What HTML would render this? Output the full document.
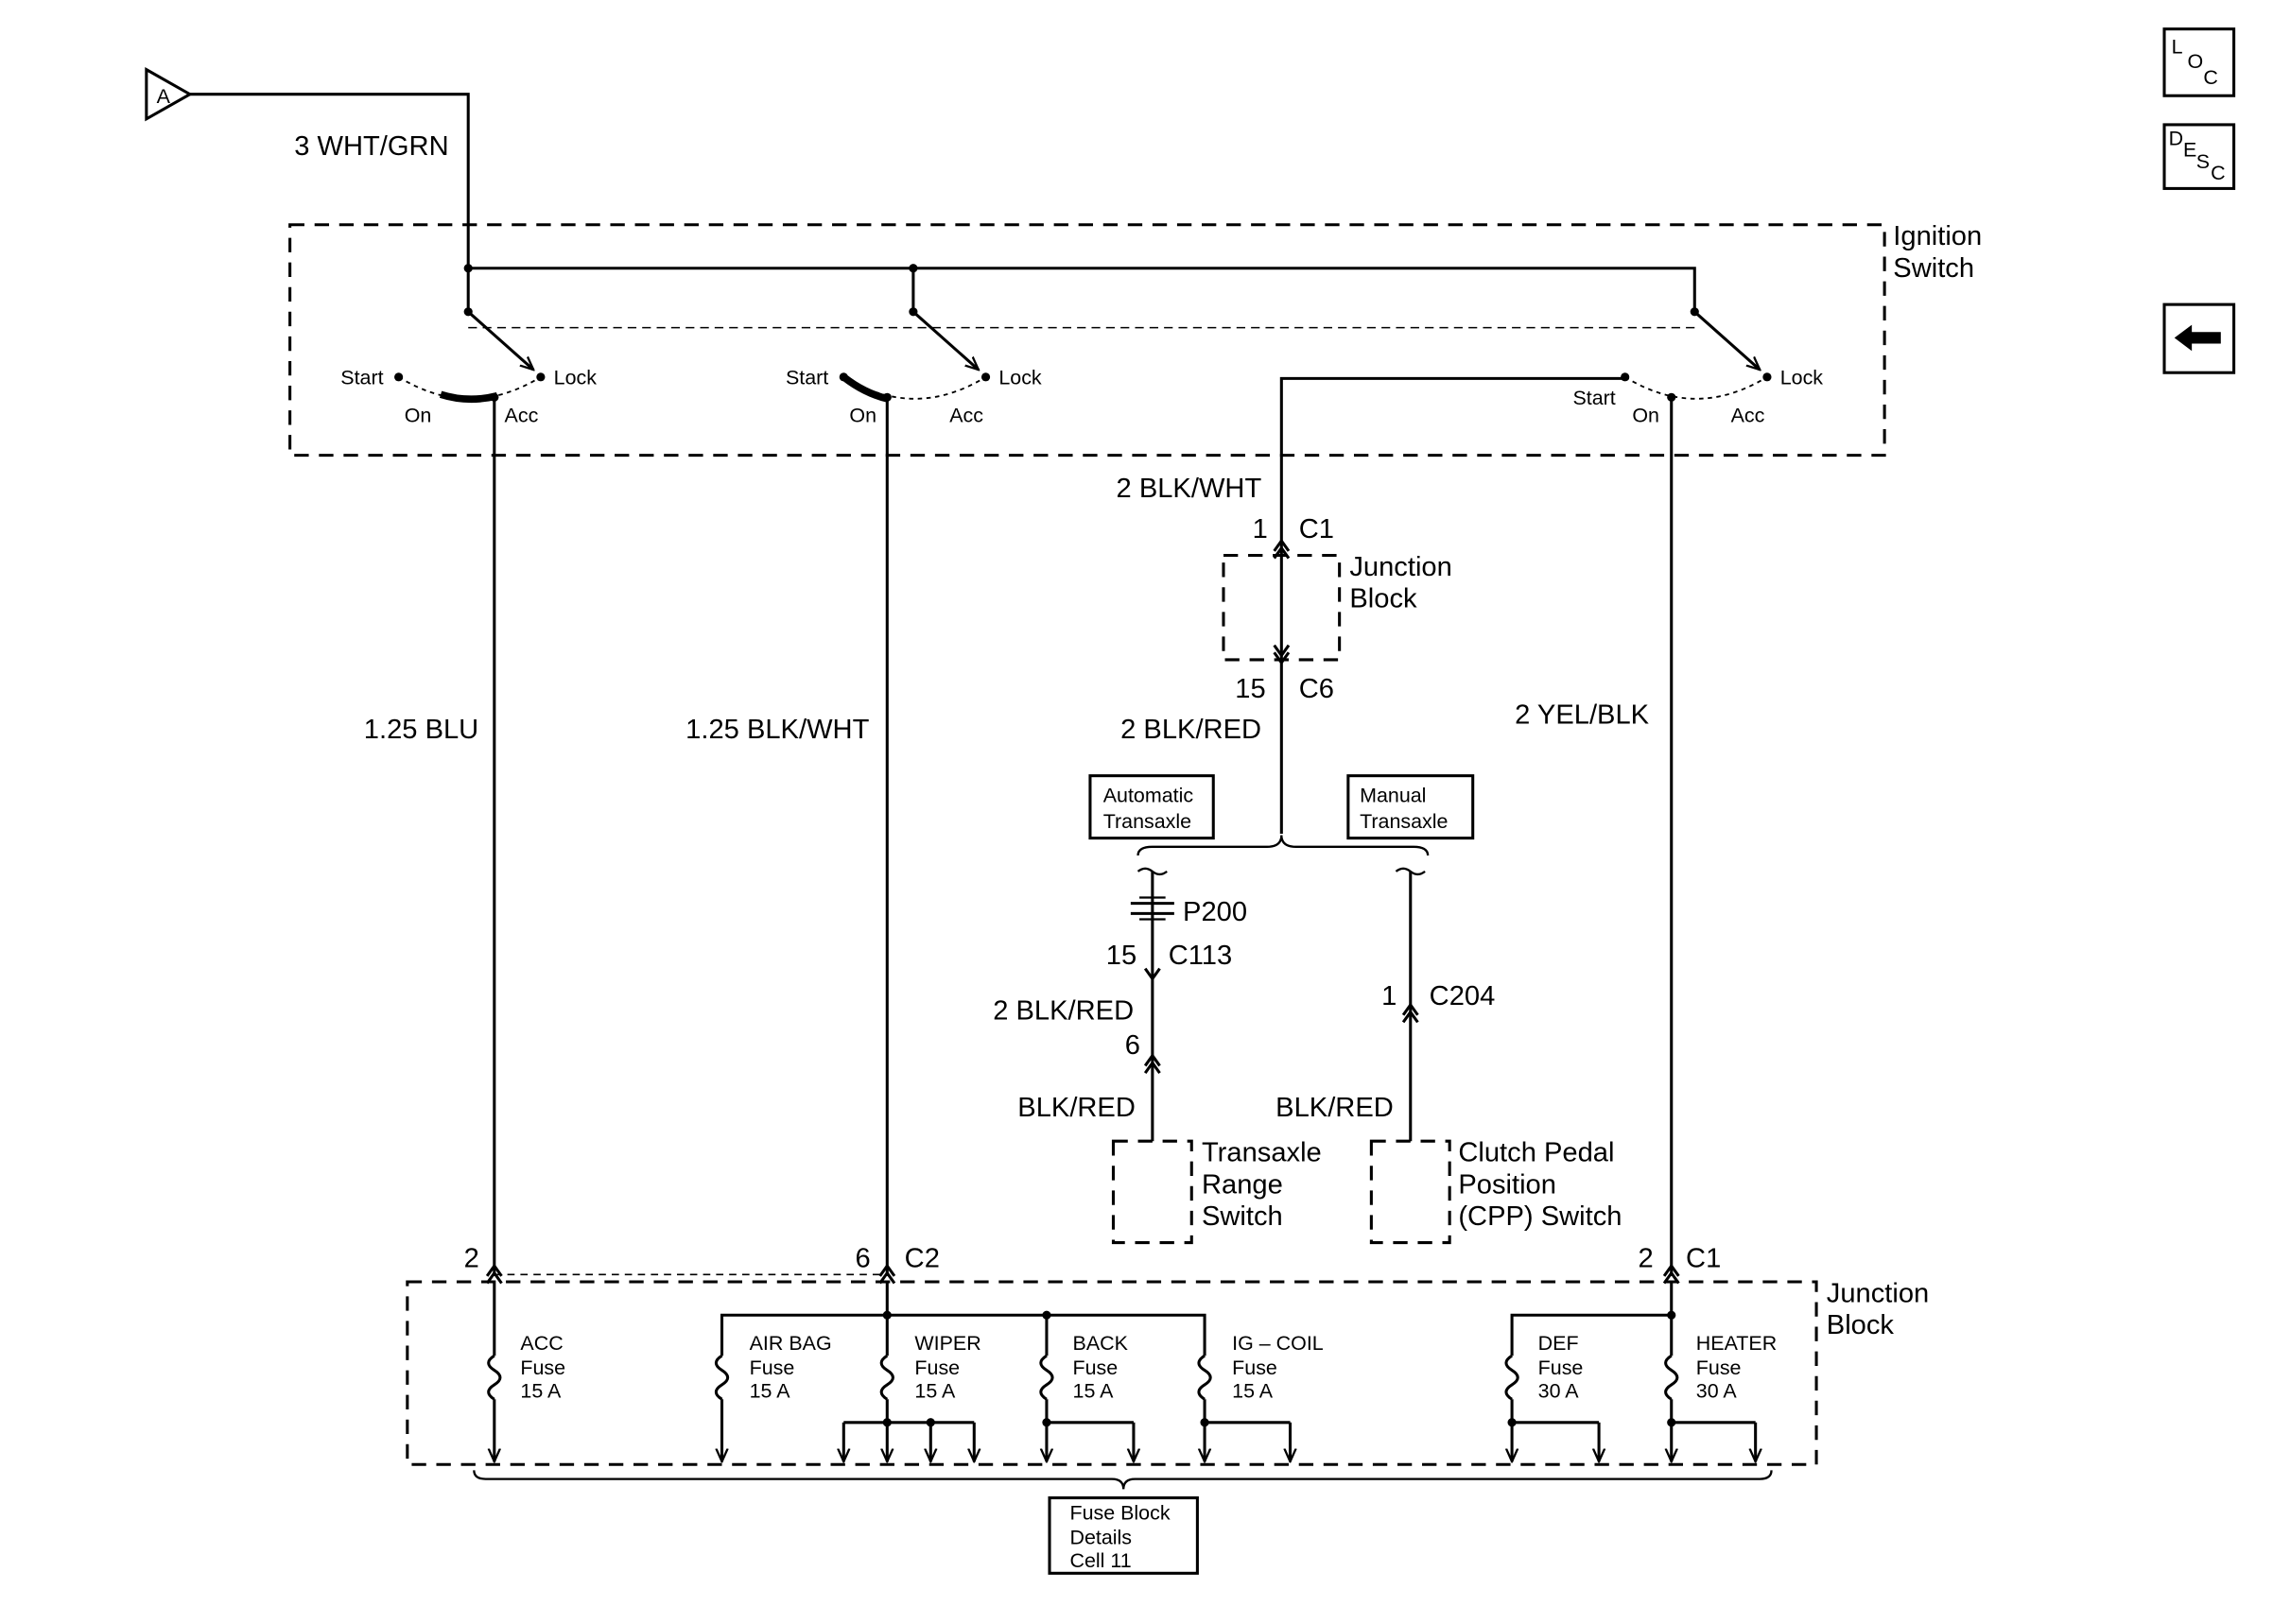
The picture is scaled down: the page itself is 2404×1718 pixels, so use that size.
<!DOCTYPE html>
<html><head><meta charset="utf-8"><style>
html,body{margin:0;padding:0;background:#fff;}
svg{display:block;}
text{font-family:"Liberation Sans",sans-serif;fill:#000;}
.l{font-size:19px;}
.s{font-size:14px;}
</style></head><body>
<svg width="2404" height="1718" viewBox="0 0 1568 1120" preserveAspectRatio="none" xmlns="http://www.w3.org/2000/svg">
<defs>
<marker id="ar" markerWidth="10" markerHeight="10" refX="9" refY="5" orient="auto" markerUnits="userSpaceOnUse"><path d="M0,1 L9,5 L0,9" fill="none" stroke="#000" stroke-width="1.5"/></marker>
</defs>
<g stroke="#000" stroke-width="2" fill="none">
<path d="M101,48 L131,65 L101,82 Z"/>
<path d="M131,65 H323 V215"/>
<rect x="200" y="155" width="1100" height="159" stroke-dasharray="10,7"/>
<path d="M323,185 H1169 V215"/>
<path d="M630,185 V215"/>
<path d="M323,226 H1169" stroke-width="1" stroke-dasharray="6,4"/>
<path d="M323,215 L368,255" marker-end="url(#ar)"/>
<path d="M630,215 L675,255" marker-end="url(#ar)"/>
<path d="M1169,215 L1214,255" marker-end="url(#ar)"/>
<path d="M275,260 Q324,290 373,260" stroke-width="1.2" stroke-dasharray="3,3"/>
<path d="M582,260 Q631,290 680,260" stroke-width="1.2" stroke-dasharray="3,3"/>
<path d="M1121,260 Q1170,290 1219,260" stroke-width="1.2" stroke-dasharray="3,3"/>
<path d="M304,272 Q323,278 343,273" stroke-width="5"/>
<path d="M582,260 Q596,271 612,275" stroke-width="5"/>
<path d="M341,274 V880"/>
<path d="M612,274 V880"/>
<path d="M1153,274 V880"/>
<path d="M1121,261 H884 V575"/>
<rect x="844" y="383" width="80" height="72" stroke-dasharray="10,7"/>
<path d="M879,380 L884,373 L889,380"/>
<path d="M879,385 L884,378 L889,385"/>
<path d="M879,445 L884,452 L889,445"/>
<path d="M879,450 L884,457 L889,450"/>
<rect x="752" y="535" width="85" height="43"/>
<rect x="930" y="535" width="86" height="43"/>
<path d="M785,590 Q785,584 795,584 H874 Q884,584 884,576 Q884,584 894,584 H975 Q985,584 985,590" stroke-width="1.5"/>
<path d="M785,601 Q790,597 795,601 Q800,605 805,601" stroke-width="1.5"/>
<path d="M963,601 Q968,597 973,601 Q978,605 983,601" stroke-width="1.5"/>
<path d="M795,601 V787"/>
<path d="M973,601 V787"/>
<path d="M780,623 H810 M780,630 H810" stroke-width="2"/>
<path d="M786,619 H804 M786,634 H804" stroke-width="1.5"/>
<path d="M790,668 L795,675 L800,668"/>
<path d="M790,735 L795,728 L800,735"/>
<path d="M790,740 L795,733 L800,740"/>
<path d="M968,700 L973,693 L978,700"/>
<path d="M968,705 L973,698 L978,705"/>
<rect x="768" y="787" width="54" height="70" stroke-dasharray="10,7"/>
<rect x="946" y="787" width="54" height="70" stroke-dasharray="10,7"/>
<rect x="281" y="884" width="972" height="126" stroke-dasharray="10,7"/>
<path d="M341,879 H612" stroke-width="1" stroke-dasharray="5,4"/>
<path d="M336,880 L341,873 L346,880 M336,885 L341,878 L346,885"/>
<path d="M607,880 L612,873 L617,880 M607,885 L612,878 L617,885"/>
<path d="M1148,880 L1153,873 L1158,880 M1148,885 L1153,878 L1158,885"/>
<path d="M341,885 V935"/>
<path d="M612,885 V935"/>
<path d="M1153,885 V935"/>
<path d="M498,935 V907 H831 V935"/>
<path d="M722,907 V935"/>
<path d="M1043,935 V907 H1153"/>
<path d="M341,935 Q333,940 341,945 Q349,950 341,955 Q333,960 341,965"/>
<path d="M498,935 Q490,940 498,945 Q506,950 498,955 Q490,960 498,965"/>
<path d="M612,935 Q604,940 612,945 Q620,950 612,955 Q604,960 612,965"/>
<path d="M722,935 Q714,940 722,945 Q730,950 722,955 Q714,960 722,965"/>
<path d="M831,935 Q823,940 831,945 Q839,950 831,955 Q823,960 831,965"/>
<path d="M1043,935 Q1035,940 1043,945 Q1051,950 1043,955 Q1035,960 1043,965"/>
<path d="M1153,935 Q1145,940 1153,945 Q1161,950 1153,955 Q1145,960 1153,965"/>
<g marker-end="url(#ar)">
<path d="M341,965 V1008"/><path d="M498,965 V1008"/><path d="M612,965 V1008"/>
<path d="M722,965 V1008"/><path d="M831,965 V1008"/><path d="M1043,965 V1008"/><path d="M1153,965 V1008"/>
<path d="M582,981 V1008"/><path d="M642,981 V1008"/><path d="M672,981 V1008"/>
<path d="M782,981 V1008"/><path d="M890,981 V1008"/><path d="M1103,981 V1008"/><path d="M1211,981 V1008"/>
</g>
<path d="M582,981 H672 M722,981 H782 M831,981 H890 M1043,981 H1103 M1153,981 H1211"/>
<path d="M327,1014 Q327,1020 335,1020 H767 Q775,1020 775,1027 Q775,1020 783,1020 H1214 Q1222,1020 1222,1014" stroke-width="1.5"/>
<rect x="724" y="1033" width="102" height="52"/>
<rect x="1493" y="20" width="48" height="46"/>
<rect x="1493" y="86" width="48" height="44"/>
<rect x="1493" y="210" width="48" height="47"/>
</g>
<g fill="#000">
<circle cx="323" cy="185" r="3"/><circle cx="630" cy="185" r="3"/>
<circle cx="323" cy="215" r="3"/><circle cx="630" cy="215" r="3"/><circle cx="1169" cy="215" r="3"/>
<circle cx="275" cy="260" r="3"/><circle cx="373" cy="260" r="3"/><circle cx="341" cy="274" r="3"/>
<circle cx="582" cy="260" r="3"/><circle cx="680" cy="260" r="3"/><circle cx="612" cy="274" r="3"/>
<circle cx="1121" cy="260" r="3"/><circle cx="1219" cy="260" r="3"/><circle cx="1153" cy="274" r="3"/>
<circle cx="612" cy="907" r="3"/><circle cx="722" cy="907" r="3"/><circle cx="1153" cy="907" r="3"/>
<circle cx="612" cy="981" r="3"/><circle cx="642" cy="981" r="3"/><circle cx="722" cy="981" r="3"/>
<circle cx="831" cy="981" r="3"/><circle cx="1043" cy="981" r="3"/><circle cx="1153" cy="981" r="3"/>
<path d="M1500,233 L1512,224 V229 H1532 V237 H1512 V242 Z"/>
</g>
<text x="108" y="71" class="s" font-size="12">A</text>
<text x="203" y="107" class="l">3 WHT/GRN</text>
<text x="1306" y="169" class="l">Ignition</text>
<text x="1306" y="191" class="l">Switch</text>
<text x="235" y="265" class="s">Start</text><text x="382" y="265" class="s">Lock</text>
<text x="279" y="291" class="s">On</text><text x="348" y="291" class="s">Acc</text>
<text x="542" y="265" class="s">Start</text><text x="689" y="265" class="s">Lock</text>
<text x="586" y="291" class="s">On</text><text x="655" y="291" class="s">Acc</text>
<text x="1085" y="279" class="s">Start</text><text x="1228" y="265" class="s">Lock</text>
<text x="1126" y="291" class="s">On</text><text x="1194" y="291" class="s">Acc</text>
<text x="770" y="343" class="l">2 BLK/WHT</text>
<text x="864" y="371" class="l">1</text><text x="896" y="371" class="l">C1</text>
<text x="931" y="397" class="l">Junction</text><text x="931" y="419" class="l">Block</text>
<text x="852" y="481" class="l">15</text><text x="896" y="481" class="l">C6</text>
<text x="773" y="509" class="l">2 BLK/RED</text>
<text x="251" y="509" class="l">1.25 BLU</text>
<text x="473" y="509" class="l">1.25 BLK/WHT</text>
<text x="1045" y="499" class="l">2 YEL/BLK</text>
<text x="761" y="553" class="s">Automatic</text><text x="761" y="571" class="s">Transaxle</text>
<text x="938" y="553" class="s">Manual</text><text x="938" y="571" class="s">Transaxle</text>
<text x="816" y="635" class="l">P200</text>
<text x="763" y="665" class="l">15</text><text x="806" y="665" class="l">C113</text>
<text x="685" y="703" class="l">2 BLK/RED</text>
<text x="776" y="727" class="l">6</text>
<text x="953" y="693" class="l">1</text><text x="986" y="693" class="l">C204</text>
<text x="702" y="770" class="l">BLK/RED</text>
<text x="880" y="770" class="l">BLK/RED</text>
<text x="829" y="801" class="l">Transaxle</text><text x="829" y="823" class="l">Range</text><text x="829" y="845" class="l">Switch</text>
<text x="1006" y="801" class="l">Clutch Pedal</text><text x="1006" y="823" class="l">Position</text><text x="1006" y="845" class="l">(CPP) Switch</text>
<text x="320" y="874" class="l">2</text>
<text x="590" y="874" class="l">6</text><text x="624" y="874" class="l">C2</text>
<text x="1130" y="874" class="l">2</text><text x="1163" y="874" class="l">C1</text>
<text x="1260" y="898" class="l">Junction</text><text x="1260" y="920" class="l">Block</text>
<g class="s">
<text x="359" y="931">ACC</text><text x="359" y="948">Fuse</text><text x="359" y="964">15 A</text>
<text x="517" y="931">AIR BAG</text><text x="517" y="948">Fuse</text><text x="517" y="964">15 A</text>
<text x="631" y="931">WIPER</text><text x="631" y="948">Fuse</text><text x="631" y="964">15 A</text>
<text x="740" y="931">BACK</text><text x="740" y="948">Fuse</text><text x="740" y="964">15 A</text>
<text x="850" y="931">IG – COIL</text><text x="850" y="948">Fuse</text><text x="850" y="964">15 A</text>
<text x="1061" y="931">DEF</text><text x="1061" y="948">Fuse</text><text x="1061" y="964">30 A</text>
<text x="1170" y="931">HEATER</text><text x="1170" y="948">Fuse</text><text x="1170" y="964">30 A</text>
<text x="738" y="1048">Fuse Block</text><text x="738" y="1065">Details</text><text x="738" y="1081">Cell 11</text>
<text x="1498" y="37">L</text><text x="1509" y="47">O</text><text x="1520" y="58">C</text>
<text x="1496" y="100">D</text><text x="1506" y="108">E</text><text x="1515" y="116">S</text><text x="1525" y="124">C</text>
</g>
</svg>
</body></html>
